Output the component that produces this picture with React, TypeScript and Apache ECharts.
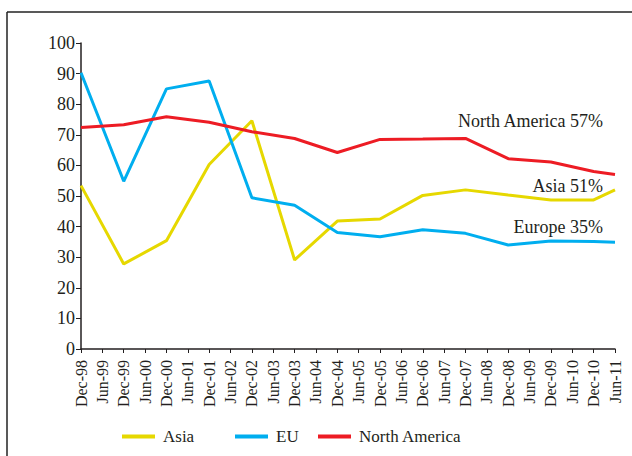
import React, { useEffect, useRef } from "react";
import * as echarts from "echarts";

const categories = [
  "Dec-98", "Jun-99", "Dec-99", "Jun-00", "Dec-00", "Jun-01", "Dec-01", "Jun-02",
  "Dec-02", "Jun-03", "Dec-03", "Jun-04", "Dec-04", "Jun-05", "Dec-05", "Jun-06",
  "Dec-06", "Jun-07", "Dec-07", "Jun-08", "Dec-08", "Jun-09", "Dec-09", "Jun-10",
  "Dec-10", "Jun-11",
];

// values observed at Dec of each year plus Jun-11 (null = no observation)
const asia = [
  53.4, null, 27.8, null, 35.4, null, 60.3, null, 74.6, null, 29.1, null, 41.8, null,
  42.5, null, 50.2, null, 52.0, null, 50.3, null, 48.7, null, 48.7, 52.0,
];
const eu = [
  90.3, null, 54.8, null, 85.0, null, 87.6, null, 49.4, null, 47.0, null, 38.1, null,
  36.7, null, 39.0, null, 37.8, null, 34.0, null, 35.3, null, 35.1, 34.9,
];
const northAmerica = [
  72.4, null, 73.3, null, 75.9, null, 74.1, null, 71.0, null, 68.8, null, 64.2, null,
  68.5, null, 68.6, null, 68.8, null, 62.2, null, 61.1, null, 58.0, 57.0,
];

const seriesNames = ["Asia", "EU", "North America"];
const annotations = ["North America 57%", "Asia 51%", "Europe 35%"];

const FONT = "'Liberation Serif', serif";
const TEXT = "#231f20";
const COLORS = ["#e6d800", "#00aeef", "#ed1c24"];

export default function App() {
  const ref = useRef<HTMLDivElement>(null);
  useEffect(() => {
    if (!ref.current) return;
    const chart = echarts.init(ref.current, undefined, { renderer: "svg" });
    const mkLegend = (name: string, left: number) => ({
      data: [name],
      left,
      top: 428,
      icon: "rect",
      itemWidth: 33,
      itemHeight: 4,
      itemGap: 8,
      padding: 0,
      textStyle: { fontFamily: FONT, fontSize: 17, color: TEXT, padding: [0, 0, 0, 3] },
    });
    chart.setOption({
      animation: false,
      backgroundColor: "#fff",
      color: COLORS,
      grid: { left: 81, top: 43, right: 17, bottom: 107, containLabel: false },
      legend: [mkLegend(seriesNames[0], 122), mkLegend(seriesNames[1], 235), mkLegend(seriesNames[2], 318)],
      xAxis: {
        type: "category",
        data: categories,
        boundaryGap: false,
        axisLine: { lineStyle: { color: TEXT, width: 1.5 } },
        axisTick: { show: true, interval: 0, length: 4, lineStyle: { color: TEXT } },
        axisLabel: {
          interval: 0,
          rotate: 90,
          fontFamily: FONT,
          fontSize: 16,
          color: TEXT,
          margin: 11,
        },
      },
      yAxis: {
        type: "value",
        min: 0,
        max: 100,
        interval: 10,
        splitLine: { show: false },
        axisLine: { show: true, lineStyle: { color: TEXT, width: 1.5 } },
        axisTick: { show: true, length: 5, lineStyle: { color: TEXT } },
        axisLabel: { fontFamily: FONT, fontSize: 18, color: TEXT, margin: 6 },
      },
      series: [
        { name: seriesNames[0], type: "line", data: asia, connectNulls: true, showSymbol: false, lineStyle: { width: 3 } },
        { name: seriesNames[1], type: "line", data: eu, connectNulls: true, showSymbol: false, lineStyle: { width: 3 } },
        { name: seriesNames[2], type: "line", data: northAmerica, connectNulls: true, showSymbol: false, lineStyle: { width: 3 } },
      ],
      graphic: [
        { type: "line", shape: { x1: 7, y1: 12, x2: 632, y2: 12 }, style: { stroke: "#222", lineWidth: 1.5 } },
        { type: "line", shape: { x1: 7, y1: 12, x2: 7, y2: 456 }, style: { stroke: "#222", lineWidth: 1.5 } },
        { type: "text", x: 603, y: 121, style: { text: annotations[0], align: "right", verticalAlign: "middle", font: `18px ${FONT}`, fill: TEXT } },
        { type: "text", x: 603, y: 186, style: { text: annotations[1], align: "right", verticalAlign: "middle", font: `18px ${FONT}`, fill: TEXT } },
        { type: "text", x: 603, y: 227, style: { text: annotations[2], align: "right", verticalAlign: "middle", font: `18px ${FONT}`, fill: TEXT } },
      ],
    });
    return () => chart.dispose();
  }, []);
  return <div ref={ref} style={{ width: 632, height: 456, position: "absolute", left: 0, top: 0 }} />;
}
